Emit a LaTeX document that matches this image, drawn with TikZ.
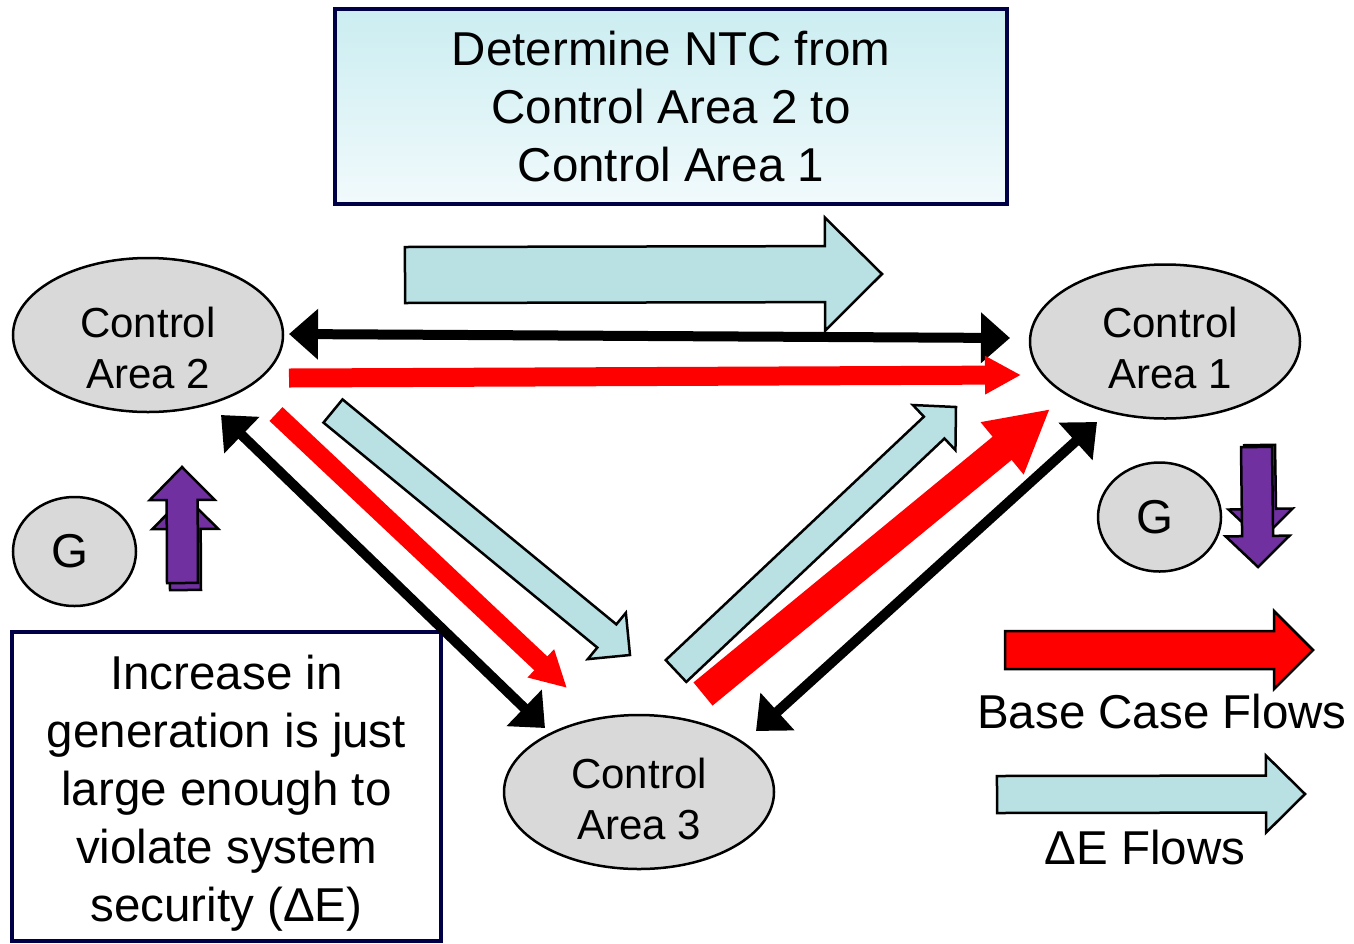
\documentclass[tikz,border=0pt]{standalone}
\usepackage{fontspec}
\setmainfont{Liberation Sans}
\usetikzlibrary{positioning,arrows.meta,shapes,calc}

\definecolor{areagray}{RGB}{217,217,217}
\definecolor{deltablue}{RGB}{185,224,227}
\definecolor{genpurple}{RGB}{112,48,160}
\definecolor{boxnavy}{RGB}{0,0,70}
\definecolor{boxtop}{RGB}{203,237,241}
\definecolor{boxbottom}{RGB}{241,250,252}

% block arrow: style, from, to, shaft half width, head half width, head length
\newcommand{\blockarrow}[6]{%
  \coordinate (hb) at ($(#3)!#6!(#2)$);
  \draw[#1] ($(#2)!#4!90:(#3)$) -- ($(hb)!#4!90:(#3)$) -- ($(hb)!#5!90:(#3)$) -- (#3)
    -- ($(hb)!#5!-90:(#3)$) -- ($(hb)!#4!-90:(#3)$) -- ($(#2)!#4!-90:(#3)$) -- cycle;
}

\begin{document}
\begin{tikzpicture}[x=1pt,y=-1pt,
  area/.style={draw,ellipse,fill=areagray,line width=2.5pt,minimum width=270pt,minimum height=154pt,inner sep=0pt},
  areatext/.style={align=center,inner sep=0pt,font=\fontsize{42}{51}\selectfont},
  gen/.style={draw,ellipse,fill=areagray,line width=2.5pt,minimum width=123pt,minimum height=109pt,inner sep=0pt},
  gentext/.style={inner sep=0pt,font=\fontsize{47.5}{58}\selectfont},
  textbox/.style={draw=boxnavy,line width=4pt,align=center,inner sep=0pt,font=\fontsize{47.5}{58}\selectfont},
  blackflow/.style={line width=10pt,>={Triangle[length=29pt,width=49pt]},<->},
  baseflow/.style={draw=red,line width=19pt,-{Triangle[length=36pt,width=36pt]}},
  bigflow/.style={draw=red,line width=30pt,-{Triangle[length=62pt,width=63pt]}},
  deltaflow/.style={fill=deltablue,draw=black,line width=2.5pt},
  genflow/.style={fill=genpurple,draw=black,line width=2.5pt},
  legend/.style={font=\fontsize{47.5}{58}\selectfont,inner sep=0pt}]

\useasboundingbox (0,0) rectangle (1354,943);

% boxes
\node[textbox,top color=boxtop,bottom color=boxbottom,minimum width=672pt,minimum height=195pt] (ntc) at (671,106.5)
  {Determine NTC from\\Control Area 2 to\\Control Area 1};
\node[textbox,fill=white,minimum width=429pt,minimum height=309pt] (incr) at (226.5,786.5)
  {\rule{0pt}{47pt}Increase in\\generation is just\\large enough to\\violate system\\security (ΔE)};

% control areas and generators
\node[area] (ca2) at (148,335) {};
\node[area] (ca1) at (1165,341.5) {};
\node[area] (ca3) at (639,792) {};
\node[areatext] (ca2t) at ([yshift=-12.5pt]ca2) {Control\\Area 2};
\node[areatext] (ca1t) at ([xshift=5pt,yshift=-6pt]ca1) {Control\\Area 1};
\node[areatext] (ca3t) at ([yshift=-6.5pt]ca3) {Control\\Area 3};
\node[gen] (g2) at (74.5,551.5) {};
\node[gen] (g1) at (1159.5,517) {};
\node[gentext] (g2t) at ([xshift=-5pt]g2) {G};
\node[gentext] (g1t) at ([xshift=-5pt]g1) {G};

% flow end points
\coordinate (ntcs) at (405,275);  \coordinate (ntce) at (882,274);
\coordinate (b21s) at (289,334);  \coordinate (b21e) at (1010,338);
\coordinate (r21s) at (289,378);  \coordinate (r21e) at (1021,375);
\coordinate (b23s) at (221,415);  \coordinate (b23e) at (545,728);
\coordinate (r23s) at (276,414);  \coordinate (r23e) at (567,688);
\coordinate (d23s) at (333,411);  \coordinate (d23e) at (630,655);
\coordinate (d31s) at (676,671);  \coordinate (d31e) at (956,407);
\coordinate (r31s) at (703,694);  \coordinate (r31e) at (1050,409);
\coordinate (b31s) at (756,731);  \coordinate (b31e) at (1097,422);

% flows between areas
\blockarrow{deltaflow}{ntcs}{ntce}{28pt}{56.5pt}{57pt}
\draw[blackflow] (b21s) -- (b21e);
\draw[baseflow] (r21s) -- (r21e);
\draw[blackflow] (b23s) -- (b23e);
\draw[baseflow] (r23s) -- (r23e);
\blockarrow{deltaflow}{d23s}{d23e}{15pt}{30pt}{30pt}
\blockarrow{deltaflow}{d31s}{d31e}{15pt}{31pt}{30pt}
\draw[bigflow] (r31s) -- (r31e);
\draw[blackflow] (b31s) -- (b31e);

% generation change
\coordinate (gu2s) at (185.5,590);  \coordinate (gu2e) at (185,496);
\coordinate (gu1s) at (182.5,583);  \coordinate (gu1e) at (182,467);
\coordinate (gd2s) at (1259.5,445); \coordinate (gd2e) at (1261,540);
\coordinate (gd1s) at (1256.5,447); \coordinate (gd1e) at (1258,567);
\blockarrow{genflow}{gu2s}{gu2e}{15.5pt}{33pt}{33pt}
\blockarrow{genflow}{gu1s}{gu1e}{15.5pt}{32.5pt}{33pt}
\blockarrow{genflow}{gd2s}{gd2e}{15.5pt}{32pt}{31pt}
\blockarrow{genflow}{gd1s}{gd1e}{15.5pt}{32pt}{31pt}

% legend
\coordinate (lrs) at (1005,650);  \coordinate (lre) at (1313,650);
\coordinate (lds) at (997,794.5); \coordinate (lde) at (1305,794);
\blockarrow{fill=red,draw=black,line width=2.5pt}{lrs}{lre}{19pt}{39pt}{39pt}
\blockarrow{deltaflow}{lds}{lde}{18.5pt}{38.5pt}{39pt}
\node[legend] (basetxt) at (1162,712) {Base Case Flows};
\node[legend] (deltatxt) at (1145,848) {ΔE Flows};

\end{tikzpicture}
\end{document}
